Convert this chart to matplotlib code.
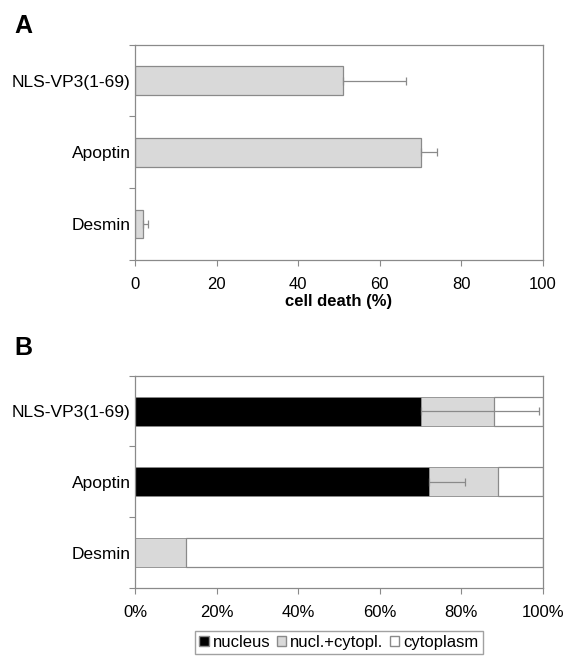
import matplotlib.pyplot as plt
from matplotlib.patches import Patch

plt.rcParams['font.family'] = ['Liberation Sans', 'DejaVu Sans']

# shared categories, listed top to bottom
constructs = ["NLS-VP3(1-69)", "Apoptin", "Desmin"]

# panel A: cell death (%)
cell_death = [51, 70, 2]
cell_death_err = [15.5, 4, 1.3]

# panel B: localisation (%)
nucleus = [70, 72, 0]
nucl_cytopl = [18, 17, 12.5]
cytoplasm = [12, 11, 87.5]
nucleus_err = [29, 9, 0]

EDGE = "#8a8a8a"
GREY = "#d9d9d9"
FS = 12


def setup_cat_axis(ax):
    n = len(constructs)
    ax.set_ylim(n - 0.5, -0.5)
    ax.set_yticks([i - 0.5 for i in range(n + 1)])
    ax.set_yticklabels([])
    ax.set_yticks(range(n), minor=True)
    ax.set_yticklabels(constructs, minor=True, fontsize=12.5)
    ax.tick_params(axis="y", which="major", length=4, color=EDGE, direction="out")
    ax.tick_params(axis="y", which="minor", length=0, pad=3)
    ax.tick_params(axis="x", length=4, color=EDGE, direction="out", labelsize=FS, pad=8)
    for s in ax.spines.values():
        s.set_color(EDGE)
        s.set_linewidth(0.9)


fig = plt.figure(figsize=(5.7, 6.56), dpi=100)
ypos = range(len(constructs))

# ---- panel A
axA = fig.add_axes([0.2368, 0.6037, 0.7158, 0.3282])
axA.barh(ypos, cell_death, height=0.40, color=GREY, edgecolor=EDGE, linewidth=0.9,
         zorder=2)
axA.errorbar(cell_death, list(ypos), xerr=[[0] * 3, cell_death_err], fmt="none",
             ecolor=EDGE, elinewidth=0.9, capsize=3, capthick=0.9, zorder=3)
axA.set_xlim(0, 100)
axA.set_xticks(range(0, 101, 20))
setup_cat_axis(axA)
axA.set_xlabel("cell death (%)", fontsize=FS, fontweight="bold", labelpad=2)

# ---- panel B
axB = fig.add_axes([0.2368, 0.1037, 0.7158, 0.3236])
h = 0.41
axB.barh(ypos, nucleus, height=h, color="black", edgecolor=EDGE, linewidth=0.6, zorder=2)
axB.barh(ypos, nucl_cytopl, left=nucleus, height=h, color=GREY, edgecolor=EDGE,
         linewidth=0.6, zorder=2)
left3 = [a + b for a, b in zip(nucleus, nucl_cytopl)]
axB.barh(ypos, cytoplasm, left=left3, height=h, color="white", edgecolor=EDGE,
         linewidth=0.9, zorder=2)
for i, (v, e) in enumerate(zip(nucleus, nucleus_err)):
    if e > 0:
        axB.errorbar(v, i, xerr=[[0], [e]], fmt="none", ecolor=EDGE, elinewidth=0.9,
                     capsize=3, capthick=0.9, zorder=3)
axB.set_xlim(0, 100)
axB.set_xticks(range(0, 101, 20))
axB.set_xticklabels([f"{t}%" for t in range(0, 101, 20)])
setup_cat_axis(axB)

handles = [Patch(facecolor="black", edgecolor=EDGE, label="nucleus"),
           Patch(facecolor=GREY, edgecolor=EDGE, label="nucl.+cytopl."),
           Patch(facecolor="white", edgecolor=EDGE, label="cytoplasm")]
fig.legend(handles=handles, loc="upper center", bbox_to_anchor=(0.595, 0.038),
           ncol=3, fontsize=FS, frameon=True, fancybox=False, edgecolor=EDGE,
           handlelength=0.55, handleheight=0.55, handletextpad=0.25, columnspacing=0.4,
           borderpad=0.25, borderaxespad=0)

fig.text(0.026, 0.960, "A", fontsize=18, fontweight="bold", ha="left", va="center")
fig.text(0.026, 0.470, "B", fontsize=18, fontweight="bold", ha="left", va="center")

fig.savefig("out.png", dpi=100)
